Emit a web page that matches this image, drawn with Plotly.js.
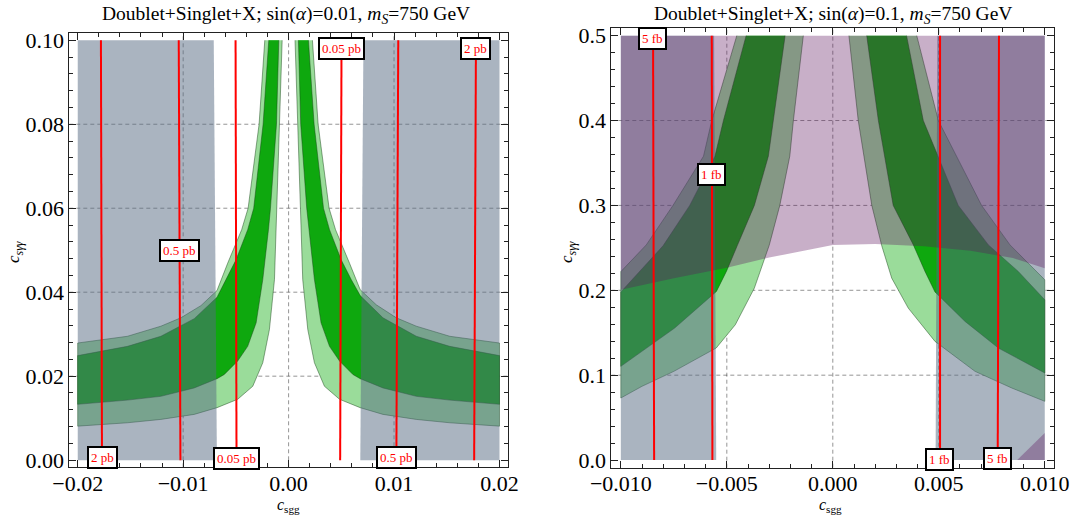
<!DOCTYPE html>
<html>
<head>
<meta charset="utf-8">
<script src="https://cdn.plot.ly/plotly-3.0.1.min.js"></script>
<style>html,body{margin:0;padding:0;background:#fff;}#chart{width:1070px;height:517px;}</style>
</head>
<body>
<div id="chart"></div>
<script>
// ---------- Left panel: sin(alpha)=0.01 ----------
// band boundaries, c_sgg > 0 side (from top y=0.1 down to c_sgg=0.02)
const L_pos_out2_x = [0.00226, 0.0028, 0.00384, 0.00445, 0.00578, 0.00679, 0.00832, 0.01022, 0.01212, 0.01529, 0.02];
const L_pos_out2_y = [0.1, 0.08, 0.06, 0.0549, 0.0469, 0.0406, 0.0370, 0.0339, 0.0319, 0.0295, 0.0279];
const L_pos_out1_x = [0.00188, 0.00242, 0.00331, 0.00388, 0.00499, 0.00594, 0.00679, 0.00895, 0.01212, 0.01529, 0.02];
const L_pos_out1_y = [0.1, 0.08, 0.06, 0.0549, 0.0477, 0.0430, 0.0392, 0.0339, 0.0295, 0.0271, 0.0249];
const L_pos_in1_x = [0.00093, 0.00115, 0.00172, 0.00191, 0.00245, 0.00308, 0.00388, 0.00483, 0.0061, 0.00679, 0.00895, 0.01212, 0.01529, 0.02];
const L_pos_in1_y = [0.1, 0.08, 0.06, 0.0549, 0.0430, 0.0327, 0.0271, 0.0236, 0.0204, 0.0194, 0.0172, 0.0152, 0.0143, 0.0133];
const L_pos_in2_x = [0.00061, 0.00083, 0.00112, 0.00118, 0.00134, 0.00182, 0.00245, 0.0034, 0.00483, 0.00679, 0.00895, 0.01212, 0.01529, 0.02];
const L_pos_in2_y = [0.1, 0.08, 0.06, 0.0549, 0.0430, 0.0311, 0.0232, 0.0176, 0.0145, 0.0125, 0.0109, 0.0097, 0.0089, 0.0081];
// c_sgg < 0 side
const L_neg_out2_x = [-0.00226, -0.0028, -0.00384, -0.00445, -0.00578, -0.00679, -0.00832, -0.01022, -0.01212, -0.01529, -0.02];
const L_neg_out2_y = [0.1, 0.08, 0.06, 0.0549, 0.0469, 0.0404, 0.0368, 0.0339, 0.0319, 0.0295, 0.0279];
const L_neg_out1_x = [-0.00188, -0.00242, -0.00331, -0.00388, -0.00499, -0.00594, -0.00679, -0.00895, -0.01212, -0.01529, -0.02];
const L_neg_out1_y = [0.1, 0.08, 0.06, 0.0549, 0.0477, 0.0428, 0.0388, 0.0337, 0.0295, 0.0271, 0.0249];
const L_neg_in1_x = [-0.00093, -0.00115, -0.00172, -0.00191, -0.00245, -0.00308, -0.00388, -0.00483, -0.0061, -0.00679, -0.00895, -0.01212, -0.01529, -0.02];
const L_neg_in1_y = [0.1, 0.08, 0.06, 0.0549, 0.0430, 0.0327, 0.0271, 0.0236, 0.0204, 0.0194, 0.0172, 0.0152, 0.0143, 0.0133];
const L_neg_in2_x = [-0.00061, -0.00083, -0.00112, -0.00118, -0.00134, -0.00182, -0.00245, -0.0034, -0.00483, -0.00679, -0.00895, -0.01212, -0.01529, -0.02];
const L_neg_in2_y = [0.1, 0.08, 0.06, 0.0549, 0.0430, 0.0311, 0.0232, 0.0176, 0.0145, 0.0125, 0.0109, 0.0097, 0.0089, 0.0081];
// excluded (grey) regions
const L_grayL_x = [-0.02, -0.0068, -0.0071, -0.02];
const L_grayL_y = [0, 0, 0.1, 0.1];
const L_grayR_x = [0.0068, 0.02, 0.02, 0.0071];
const L_grayR_y = [0, 0, 0.1, 0.1];
// cross-section contours
const L_contour_xbot = [-0.0177, -0.01026, -0.00494, 0.00489, 0.01022, 0.0176];
const L_contour_xtop = [-0.0178, -0.01042, -0.00503, 0.00502, 0.0104, 0.01777];
const L_contour_text = ["2 pb", "0.5 pb", "0.05 pb", "0.05 pb", "0.5 pb", "2 pb"];
const L_label_x = [-0.01761, -0.01033, -0.00494, 0.00502, 0.01022, 0.01774];
const L_label_y = [0.0007, 0.0499, 0.0004, 0.098, 0.0007, 0.098];
const L_xticks = [-0.02, -0.01, 0, 0.01, 0.02];
const L_xticktext = ["\u22120.02", "\u22120.01", "0.00", "0.01", "0.02"];
const L_yticks = [0, 0.02, 0.04, 0.06, 0.08, 0.1];
const L_yticktext = ["0.00", "0.02", "0.04", "0.06", "0.08", "0.10"];

// ---------- Right panel: sin(alpha)=0.1 ----------
const R_neg_out2_x = [-0.00453, -0.00571, -0.0061, -0.00754, -0.0088, -0.01];
const R_neg_out2_y = [0.5, 0.4, 0.358, 0.3, 0.2535, 0.222];
const R_neg_out1_x = [-0.00409, -0.00516, -0.00556, -0.00675, -0.00801, -0.01];
const R_neg_out1_y = [0.5, 0.4, 0.358, 0.3, 0.2524, 0.198];
const R_neg_in1_x = [-0.00225, -0.0028, -0.00304, -0.0037, -0.0045, -0.00502, -0.00549, -0.00746, -0.00903, -0.01];
const R_neg_in1_y = [0.5, 0.4, 0.358, 0.3, 0.253, 0.2222, 0.1986, 0.1555, 0.128, 0.1104];
const R_neg_in2_x = [-0.00139, -0.00186, -0.00203, -0.0025, -0.003, -0.0037, -0.0046, -0.0055, -0.0075, -0.009, -0.01];
const R_neg_in2_y = [0.5, 0.4, 0.358, 0.3, 0.253, 0.2026, 0.1594, 0.132, 0.1045, 0.0869, 0.0731];
const R_pos_out2_x = [0.00396, 0.00498, 0.00702, 0.00836, 0.01];
const R_pos_out2_y = [0.5, 0.4, 0.3, 0.2535, 0.2124];
const R_pos_out1_x = [0.00348, 0.00427, 0.00592, 0.00734, 0.00875, 0.01];
const R_pos_out1_y = [0.5, 0.4, 0.3, 0.2535, 0.2222, 0.1888];
const R_pos_in1_x = [0.0016, 0.00215, 0.00285, 0.0038, 0.00435, 0.00482, 0.00624, 0.00781, 0.01];
const R_pos_in1_y = [0.5, 0.4, 0.3, 0.2535, 0.2222, 0.198, 0.1633, 0.132, 0.1026];
const R_pos_in2_x = [0.00076, 0.0012, 0.00184, 0.00231, 0.00278, 0.00356, 0.00482, 0.00671, 0.00844, 0.01];
const R_pos_in2_y = [0.5, 0.4, 0.3, 0.2524, 0.2143, 0.179, 0.1398, 0.1045, 0.0849, 0.0692];
const R_grayL_x = [-0.01, -0.0055, -0.0056, -0.01];
const R_grayL_y = [0, 0, 0.5, 0.5];
const R_grayR_x = [0.00485, 0.01, 0.01, 0.00493];
const R_grayR_y = [0, 0, 0.5, 0.5];
// boundary of the purple excluded region (upper arc, from left to right)
const R_arc_x = [-0.01, -0.0075, -0.005, -0.003, 0, 0.002, 0.0043, 0.0065, 0.0085, 0.01];
const R_arc_y = [0.2006, 0.2143, 0.2265, 0.2385, 0.2535, 0.2545, 0.252, 0.2465, 0.238, 0.226];
const R_corner_x = [0.0087, 0.01, 0.01];
const R_corner_y = [0, 0, 0.032];
const R_contour_xbot = [-0.00843, -0.00568, 0.00506, 0.00778];
const R_contour_xtop = [-0.00848, -0.00571, 0.00506, 0.00784];
const R_contour_text = ["5 fb", "1 fb", "1 fb", "5 fb"];
const R_label_x = [-0.00849, -0.00571, 0.00504, 0.00777];
const R_label_y = [0.497, 0.3367, 0.0002, 0.002];
const R_xticks = [-0.01, -0.005, 0, 0.005, 0.01];
const R_xticktext = ["\u22120.010", "\u22120.005", "0.000", "0.005", "0.010"];
const R_yticks = [0, 0.1, 0.2, 0.3, 0.4, 0.5];
const R_yticktext = ["0.0", "0.1", "0.2", "0.3", "0.4", "0.5"];

// ---------- styles ----------
const C2 = 'rgb(154,220,154)';
const C1 = 'rgb(14,168,14)';
const EDGE = {color: 'rgba(25,70,25,0.6)', width: 0.8};
const GRAY = 'rgba(85,105,129,0.5)';
const PURPLE = 'rgba(93,20,93,0.34)';
const RED = 'rgb(255,0,0)';
const SERIF = 'Liberation Serif, Times New Roman, serif';
const L_XR = [-0.0208, 0.0208], L_YR = [-0.0017, 0.1018];
const R_XR = [-0.01045, 0.01045], R_YR = [-0.009, 0.509];

function band(ox, oy, ix, iy, color, xa, ya) {
  return {type: 'scatter', mode: 'lines', fill: 'toself', fillcolor: color, line: EDGE,
    x: ox.concat(ix.slice().reverse()), y: oy.concat(iy.slice().reverse()),
    xaxis: xa, yaxis: ya, hoverinfo: 'skip'};
}
function poly(px, py, color, xa, ya) {
  return {type: 'scatter', mode: 'lines', fill: 'toself', fillcolor: color, line: {width: 0, color: 'rgba(0,0,0,0)'},
    x: px, y: py, xaxis: xa, yaxis: ya, hoverinfo: 'skip'};
}
function redLine(xb, xt, ytop, xa, ya) {
  return {type: 'scatter', mode: 'lines', line: {color: RED, width: 2}, x: [xb, xt], y: [0, ytop],
    xaxis: xa, yaxis: ya, hoverinfo: 'skip'};
}
function grid(xt, yt, xr, yr, xa, ya) {
  const gx = [], gy = [];
  xt.slice(1, -1).forEach(v => { gx.push(v, v, null); gy.push(yr[0], yr[1], null); });
  yt.slice(1, -1).forEach(v => { gx.push(xr[0], xr[1], null); gy.push(v, v, null); });
  return {type: 'scatter', mode: 'lines', x: gx, y: gy, xaxis: xa, yaxis: ya, hoverinfo: 'skip',
    line: {color: 'rgba(0,0,0,0.42)', width: 1, dash: '4px,3px'}};
}

const traces = [];
// left panel
traces.push(grid(L_xticks, L_yticks, L_XR, L_YR, 'x', 'y'));
traces.push(band(L_neg_out2_x, L_neg_out2_y, L_neg_in2_x, L_neg_in2_y, C2, 'x', 'y'));
traces.push(band(L_pos_out2_x, L_pos_out2_y, L_pos_in2_x, L_pos_in2_y, C2, 'x', 'y'));
traces.push(band(L_neg_out1_x, L_neg_out1_y, L_neg_in1_x, L_neg_in1_y, C1, 'x', 'y'));
traces.push(band(L_pos_out1_x, L_pos_out1_y, L_pos_in1_x, L_pos_in1_y, C1, 'x', 'y'));
traces.push(poly(L_grayL_x, L_grayL_y, GRAY, 'x', 'y'));
traces.push(poly(L_grayR_x, L_grayR_y, GRAY, 'x', 'y'));
for (let i = 0; i < L_contour_xbot.length; i++) traces.push(redLine(L_contour_xbot[i], L_contour_xtop[i], 0.1, 'x', 'y'));
// right panel
traces.push(grid(R_xticks, R_yticks, R_XR, R_YR, 'x2', 'y2'));
traces.push(band(R_neg_out2_x, R_neg_out2_y, R_neg_in2_x, R_neg_in2_y, C2, 'x2', 'y2'));
traces.push(band(R_pos_out2_x, R_pos_out2_y, R_pos_in2_x, R_pos_in2_y, C2, 'x2', 'y2'));
traces.push(band(R_neg_out1_x, R_neg_out1_y, R_neg_in1_x, R_neg_in1_y, C1, 'x2', 'y2'));
traces.push(band(R_pos_out1_x, R_pos_out1_y, R_pos_in1_x, R_pos_in1_y, C1, 'x2', 'y2'));
traces.push(poly(R_grayL_x, R_grayL_y, GRAY, 'x2', 'y2'));
traces.push(poly(R_grayR_x, R_grayR_y, GRAY, 'x2', 'y2'));
const rTop = R_yticks[R_yticks.length - 1];
traces.push(poly([R_arc_x[0]].concat(R_arc_x, [R_arc_x[R_arc_x.length - 1]]),
                 [rTop].concat(R_arc_y, [rTop]), PURPLE, 'x2', 'y2'));
traces.push(poly(R_corner_x, R_corner_y, PURPLE, 'x2', 'y2'));
for (let i = 0; i < R_contour_xbot.length; i++) traces.push(redLine(R_contour_xbot[i], R_contour_xtop[i], 0.5, 'x2', 'y2'));

function axis(extra) {
  return Object.assign({
    showline: true, linecolor: '#222', linewidth: 1, mirror: 'allticks',
    ticks: 'inside', ticklen: 7, tickcolor: '#222', tickwidth: 1,
    showgrid: false, zeroline: false, tickmode: 'array',
    tickfont: {family: SERIF, size: 22, color: '#000'}, fixedrange: true
  }, extra);
}

const annotations = [];
function lab(t, x, y, xr, yr) {
  annotations.push({text: t, x: x, y: y, xref: xr, yref: yr, showarrow: false,
    font: {family: SERIF, size: 13, color: RED}, bgcolor: '#fff', bordercolor: '#000',
    borderwidth: 2, borderpad: 2, xanchor: 'center', yanchor: 'middle'});
}
for (let i = 0; i < L_contour_text.length; i++) lab(L_contour_text[i], L_label_x[i], L_label_y[i], 'x', 'y');
for (let i = 0; i < R_contour_text.length; i++) lab(R_contour_text[i], R_label_x[i], R_label_y[i], 'x2', 'y2');
function txt(t, x, y, size, angle) {
  annotations.push({text: t, x: x, y: y, xref: 'paper', yref: 'paper', showarrow: false,
    font: {family: SERIF, size: size, color: '#000'}, xanchor: 'center', yanchor: 'middle', textangle: angle || 0});
}
txt('Doublet+Singlet+X; sin(<i>α</i>)=0.01, <i>m</i><sub><i>S</i></sub>=750 GeV', 286 / 1070, 1 - 15 / 517, 19.5);
txt('Doublet+Singlet+X; sin(<i>α</i>)=0.1, <i>m</i><sub><i>S</i></sub>=750 GeV', 833 / 1070, 1 - 15 / 517, 19.5);
txt('<i>c</i><sub>sgg</sub>', 288 / 1070, 1 - 505 / 517, 16);
txt('<i>c</i><sub>sgg</sub>', 830 / 1070, 1 - 505 / 517, 16);
txt('<i>c</i><sub><i>sγγ</i></sub>', 15 / 1070, 1 - 252 / 517, 17, -90);
txt('<i>c</i><sub><i>sγγ</i></sub>', 568 / 1070, 1 - 252 / 517, 17, -90);

const layout = {
  width: 1070, height: 517, margin: {l: 0, r: 0, t: 0, b: 0},
  paper_bgcolor: '#fff', plot_bgcolor: '#fff', showlegend: false,
  xaxis: axis({domain: [69.3 / 1070, 507.9 / 1070], range: L_XR, anchor: 'y',
    tickvals: L_xticks, ticktext: L_xticktext, ticklabelstandoff: -4,
    minor: {ticks: 'inside', ticklen: 4, dtick: 0.002, tick0: 0, tickcolor: '#222', showgrid: false}}),
  yaxis: axis({domain: [1 - 467.3 / 517, 1 - 32.7 / 517], range: L_YR, anchor: 'x',
    tickvals: L_yticks, ticktext: L_yticktext,
    minor: {ticks: 'inside', ticklen: 4, dtick: 0.004, tick0: 0, tickcolor: '#222', showgrid: false}}),
  xaxis2: axis({domain: [611.3 / 1070, 1054.3 / 1070], range: R_XR, anchor: 'y2',
    tickvals: R_xticks, ticktext: R_xticktext, ticklabelstandoff: -4,
    minor: {ticks: 'inside', ticklen: 4, dtick: 0.001, tick0: 0, tickcolor: '#222', showgrid: false}}),
  yaxis2: axis({domain: [1 - 467.7 / 517, 1 - 28 / 517], range: R_YR, anchor: 'x2',
    tickvals: R_yticks, ticktext: R_yticktext,
    minor: {ticks: 'inside', ticklen: 4, dtick: 0.02, tick0: 0, tickcolor: '#222', showgrid: false}}),
  annotations: annotations
};
Plotly.newPlot('chart', traces, layout, {staticPlot: true, displayModeBar: false});
</script>
</body>
</html>
